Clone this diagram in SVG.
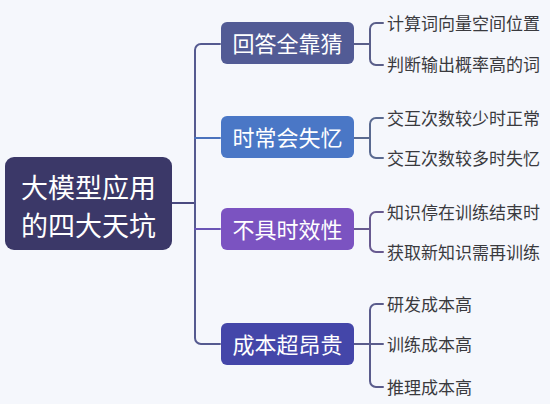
<svg xmlns="http://www.w3.org/2000/svg" width="550" height="404" viewBox="0 0 550 404">
<style>
.bg{fill:#f5f7fc}
text{font-family:"Noto Sans CJK SC","Noto Sans",sans-serif}
.root{font-size:27px;fill:#ffffff;text-anchor:middle}
.br{font-size:22px;fill:#ffffff;text-anchor:middle}
.leaf{font-size:17px;fill:#3a3a3e}
.ln{fill:none;stroke-width:2;stroke-linecap:round}
</style>
<rect class="bg" x="0" y="0" width="550" height="404"/>
<g id="connectors">
<path class="ln" stroke="#4a4a80" d="M172,203 H195"/>
<path class="ln" stroke="#555a90" d="M220,44 H201 A6,6 0 0 0 195,50 V338 A6,6 0 0 0 201,344 H220"/>
<path class="ln" stroke="#4a72bd" d="M195,138 H220"/>
<path class="ln" stroke="#6a55b5" d="M195,229 H220"/>
<path class="ln" stroke="#5a5f8a" d="M354,44 H370 M383,23 H376 A6,6 0 0 0 370,29 V59 A6,6 0 0 0 376,65 H383"/>
<path class="ln" stroke="#5a6a90" d="M354,138 H370 M383,118 H376 A6,6 0 0 0 370,124 V152 A6,6 0 0 0 376,158 H383"/>
<path class="ln" stroke="#685a90" d="M354,229 H370 M383,212 H376 A6,6 0 0 0 370,218 V246 A6,6 0 0 0 376,252 H383"/>
<path class="ln" stroke="#5a5c8c" d="M354,344 H383 M383,304 H376 A6,6 0 0 0 370,310 V381 A6,6 0 0 0 376,387 H383"/>
</g>
<g id="root">
<rect x="5" y="157" width="167" height="93" rx="9" fill="#3b3868"/>
<text class="root" x="88.5" y="198">大模型应用</text>
<text class="root" x="88.5" y="236">的四大天坑</text>
</g>
<g id="b1">
<rect x="221" y="22" width="133" height="42" rx="6" fill="#525b95"/>
<text class="br" x="287.5" y="51.5">回答全靠猜</text>
</g>
<g id="b2">
<rect x="221" y="116" width="133" height="42" rx="6" fill="#4a77c6"/>
<text class="br" x="287.5" y="145.5">时常会失忆</text>
</g>
<g id="b3">
<rect x="221" y="208" width="133" height="42" rx="6" fill="#7b53c1"/>
<text class="br" x="287.5" y="237.5">不具时效性</text>
</g>
<g id="b4">
<rect x="221" y="323" width="133" height="42" rx="6" fill="#4446a9"/>
<text class="br" x="287.5" y="352.5">成本超昂贵</text>
</g>
<g id="l1a"><text class="leaf" x="387" y="29.5">计算词向量空间位置</text></g>
<g id="l1b"><text class="leaf" x="387" y="71">判断输出概率高的词</text></g>
<g id="l2a"><text class="leaf" x="387" y="124.5">交互次数较少时正常</text></g>
<g id="l2b"><text class="leaf" x="387" y="164.5">交互次数较多时失忆</text></g>
<g id="l3a"><text class="leaf" x="387" y="218.5">知识停在训练结束时</text></g>
<g id="l3b"><text class="leaf" x="387" y="258.5">获取新知识需再训练</text></g>
<g id="l4a"><text class="leaf" x="387" y="310.5">研发成本高</text></g>
<g id="l4b"><text class="leaf" x="387" y="351">训练成本高</text></g>
<g id="l4c"><text class="leaf" x="387" y="393.5">推理成本高</text></g>
</svg>
